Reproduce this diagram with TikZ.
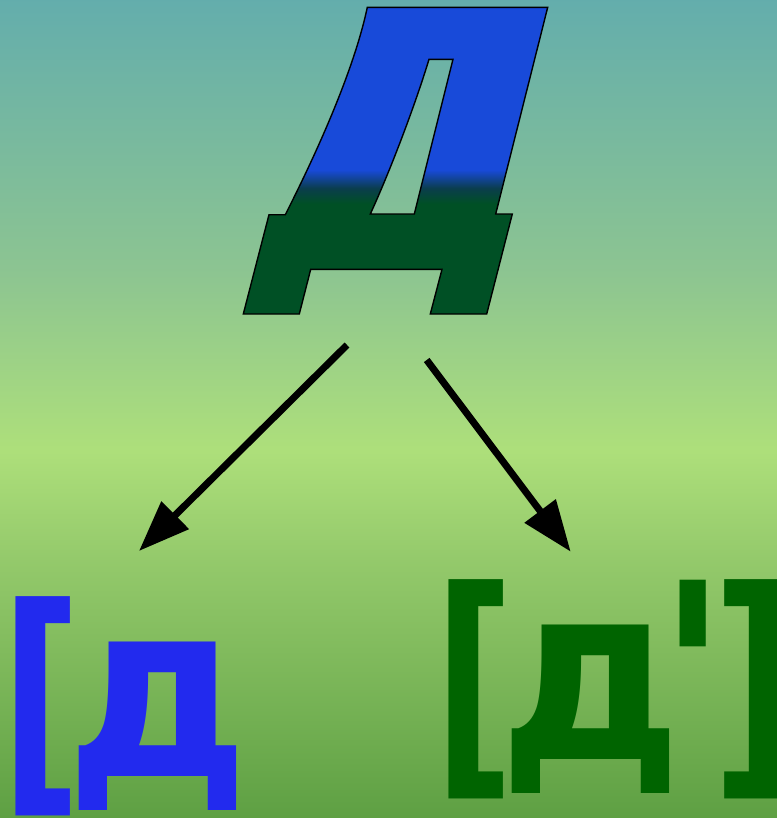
\documentclass[tikz,border=0pt]{standalone}
\usepackage{fontspec}
\newfontfamily\dejavu[FakeStretch=0.92]{DejaVu Sans}
\newfontfamily\dejabrack[FakeStretch=0.73]{DejaVu Sans}
\usepackage{xcolor}
\usepackage{tikz}
\tikzset{>=latex}
\usetikzlibrary{
    positioning, % relative placement
    arrows.meta, % arrow tips
    calc
}
\definecolor{softblue}{RGB}{34,42,238}
\definecolor{deepgreen}{RGB}{0,100,0}
% background fade: teal on top, light green in the middle, green at the bottom
\pgfdeclareverticalshading{bgfade}{100bp}{rgb(0bp)=(0.369,0.627,0.263); rgb(25bp)=(0.369,0.627,0.263);
  rgb(40.8bp)=(0.58,0.79,0.42); rgb(47.5bp)=(0.68,0.875,0.48); rgb(58.5bp)=(0.55,0.77,0.57);
  rgb(75bp)=(0.39,0.68,0.675); rgb(100bp)=(0.39,0.68,0.675)}
% letter fade: blue on top, dark green below
\pgfdeclareverticalshading{defade}{100bp}{rgb(0bp)=(0,0.314,0.145); rgb(43bp)=(0,0.314,0.145);
  rgb(45.5bp)=(0.04,0.24,0.3); rgb(48.5bp)=(0.094,0.29,0.85); rgb(100bp)=(0.094,0.29,0.85)}

\begin{document}
\begin{tikzpicture}[x=0.02cm,y=-0.02cm]
    % styles
    \tikzstyle{sound} = [inner sep=0pt, anchor=base west, font=\dejavu\bfseries\fontsize{140}{140}\selectfont]
    \tikzstyle{line}  = [-{Triangle[length=1.02cm,width=0.75cm]}, draw=black, line width=0.14cm]
    % background
    \clip (0,0) rectangle (777,818);
    \shade[shading=bgfade] (0,0) rectangle (777,818);
    % big letter
    \shadedraw[shading=defade, draw=black, line width=0.8pt, even odd rule]
      (367.3,7.3) -- (547.7,7.3) -- (495.7,214) -- (512.3,214) -- (486.7,314) -- (430.3,314)
        -- (442,269.3) -- (310.7,269.3) -- (299.3,314) -- (243.3,314) -- (269,214.7) -- (285.3,214.7)
        .. controls (310,166) and (352.9,75.8) .. (367.3,7.3) -- cycle
      (429,59.3) -- (453,59.3) -- (414.3,214) -- (370.3,214)
        .. controls (389.2,173) and (414.5,107.1) .. (429,59.3) -- cycle;
    % ends of the arrows
    \coordinate (fromhard) at (347,345);
    \coordinate (tohard)   at (139,551);
    \coordinate (fromsoft) at (426.7,360);
    \coordinate (tosoft)   at (570.7,551.7);
    % readings
    \node[sound, text=softblue]  (hard) at (0,776)
      {{\dejabrack\raisebox{-4pt}{[}}\kern-9pt д};
    \node[sound, text=deepgreen] (soft) at (433,759)
      {{\dejabrack\raisebox{-4pt}{[}}\kern-9pt д\kern-14pt'\kern-8pt{\dejabrack\raisebox{-4pt}{]}}};
    % arrows
    \draw[line] (fromhard) -- (tohard);
    \draw[line] (fromsoft) -- (tosoft);
\end{tikzpicture}
\end{document}
